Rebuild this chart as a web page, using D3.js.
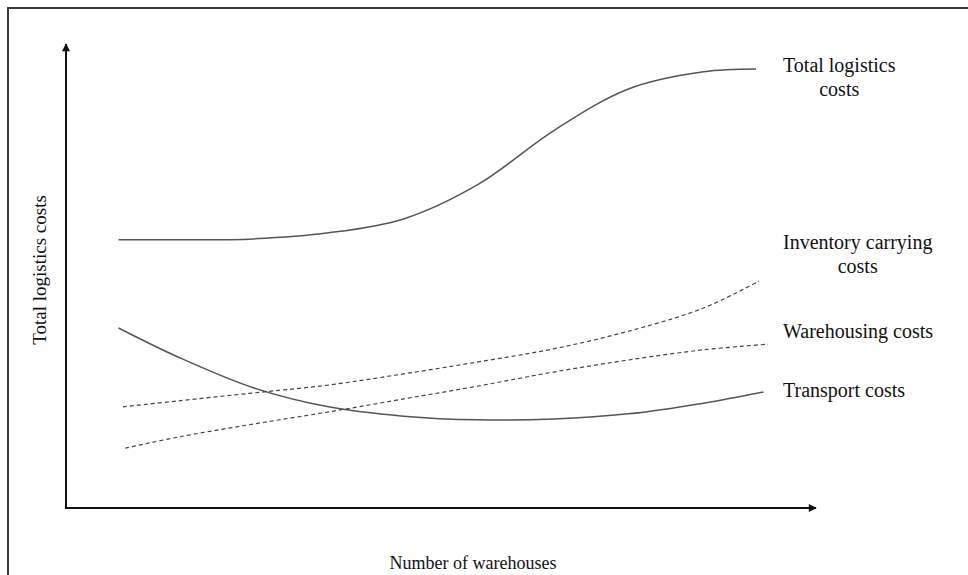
<!DOCTYPE html>
<html>
<head>
<meta charset="utf-8">
<script src="https://cdn.jsdelivr.net/npm/d3@7"></script>
<style>
  body { margin: 0; background: #fff; }
  text { font-family: "Liberation Serif", "Times New Roman", serif; fill: #111; }
</style>
</head>
<body>
<script>
// number of warehouses (abstract units 0-100) and cost levels (0-100)
var totalX = [7, 15, 25, 35, 45, 55, 65, 75, 85, 92];
var totalY = [57.8, 57.8, 58.0, 59.3, 62.3, 69.8, 81.3, 90.3, 94.0, 94.6];

var transportX = [7, 15, 25, 35, 45, 55, 65, 75, 85, 93];
var transportY = [38.8, 32.5, 25.9, 21.8, 19.8, 19.0, 19.2, 20.3, 22.6, 25.0];

var inventoryX = [7.6, 15, 25, 35, 45, 55, 65, 75, 85, 92.4];
var inventoryY = [21.8, 23.1, 24.8, 26.5, 28.9, 31.5, 34.3, 38.1, 43.1, 48.9];

var warehousingX = [7.9, 15, 25, 35, 45, 55, 65, 75, 85, 93.6];
var warehousingY = [12.9, 15.3, 18.1, 20.7, 23.5, 26.3, 29.3, 31.9, 34.1, 35.3];

var seriesNames = ['Total logistics costs', 'Transport costs', 'Inventory carrying costs', 'Warehousing costs'];
var xTitle = 'Number of warehouses';
var yTitle = 'Total logistics costs';

var width = 968;
var height = 575;

var svg = d3.select('body').append('svg')
  .attr('width', width)
  .attr('height', height);

// outer frame (only left + top visible)
svg.append('path')
  .attr('d', 'M8,' + height + 'V8H' + width)
  .attr('fill', 'none')
  .attr('stroke', '#3a3a3a')
  .attr('stroke-width', 2);

var x = d3.scaleLinear().domain([0, 100]).range([66, 816]);
var y = d3.scaleLinear().domain([0, 100]).range([508, 44]);

var defs = svg.append('defs');
defs.append('marker')
  .attr('id', 'arrow')
  .attr('viewBox', '0 0 10 10')
  .attr('refX', 9)
  .attr('refY', 5)
  .attr('markerWidth', 4.5)
  .attr('markerHeight', 4)
  .attr('markerUnits', 'strokeWidth')
  .attr('orient', 'auto')
  .append('path')
  .attr('d', 'M0,0L10,5L0,10z')
  .attr('fill', '#111');

// axes
svg.append('line')
  .attr('x1', x(0)).attr('y1', y(0))
  .attr('x2', x(0)).attr('y2', y(100))
  .attr('stroke', '#111').attr('stroke-width', 2)
  .attr('marker-end', 'url(#arrow)');
svg.append('line')
  .attr('x1', x(0) - 1).attr('y1', y(0))
  .attr('x2', x(100)).attr('y2', y(0))
  .attr('stroke', '#111').attr('stroke-width', 2)
  .attr('marker-end', 'url(#arrow)');

var line = d3.line()
  .x(function(d) { return x(d[0]); })
  .y(function(d) { return y(d[1]); })
  .curve(d3.curveCatmullRom.alpha(0.5));

function zip(xs, ys) {
  return xs.map(function(v, i) { return [v, ys[i]]; });
}

var series = [
  { name: seriesNames[0], pts: zip(totalX, totalY), dash: null },
  { name: seriesNames[1], pts: zip(transportX, transportY), dash: null },
  { name: seriesNames[2], pts: zip(inventoryX, inventoryY), dash: '4,3' },
  { name: seriesNames[3], pts: zip(warehousingX, warehousingY), dash: '4,3' }
];

svg.selectAll('path.series').data(series).enter().append('path')
  .attr('class', 'series')
  .attr('d', function(d) { return line(d.pts); })
  .attr('fill', 'none')
  .attr('stroke', function(d) { return d.dash ? '#444' : '#555'; })
  .attr('stroke-width', function(d) { return d.dash ? 1.2 : 1.5; })
  .attr('stroke-dasharray', function(d) { return d.dash; });

// right-hand labels
var labels = [
  { lines: ['Total logistics', 'costs'], x: 783, y: 72 },
  { lines: ['Inventory carrying', 'costs'], x: 783, y: 249 },
  { lines: ['Warehousing costs'], x: 783, y: 338 },
  { lines: ['Transport costs'], x: 783, y: 397 }
];

labels.forEach(function(l) {
  var first = svg.append('text')
    .attr('x', l.x).attr('y', l.y)
    .attr('font-size', 20)
    .text(l.lines[0]);
  var w = first.node().getComputedTextLength();
  l.lines.slice(1).forEach(function(t, i) {
    svg.append('text')
      .attr('x', l.x + w / 2).attr('y', l.y + 24 * (i + 1))
      .attr('text-anchor', 'middle')
      .attr('font-size', 20)
      .text(t);
  });
});

// axis titles
svg.append('text')
  .attr('x', 473).attr('y', 569)
  .attr('text-anchor', 'middle')
  .attr('font-size', 18)
  .text(xTitle);

svg.append('text')
  .attr('transform', 'translate(46,270) rotate(-90)')
  .attr('text-anchor', 'middle')
  .attr('font-size', 19)
  .text(yTitle);
</script>
</body>
</html>
